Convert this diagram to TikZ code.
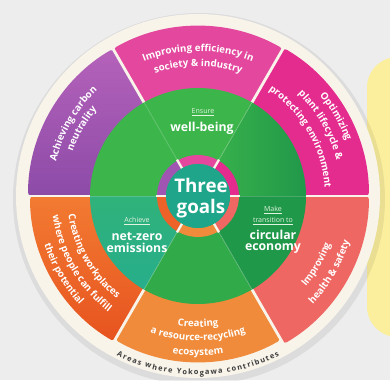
\documentclass[tikz,border=0pt]{standalone}
\usepackage{fontspec}
\setmainfont{Open Sans}
\usetikzlibrary{decorations.text}
\tikzset{>=latex}
\definecolor{bggray}{HTML}{EDEDED}
\definecolor{cream}{HTML}{F8F4EA}
\definecolor{blobyellow}{HTML}{FBEF9E}
\definecolor{segpurple}{HTML}{A055B2}
\definecolor{purpletop}{HTML}{B562BA}
\definecolor{purplebot}{HTML}{8C4BA8}
\definecolor{segpink}{HTML}{E4489E}
\definecolor{segmagenta}{HTML}{E42B8E}
\definecolor{segsalmon}{HTML}{EF6763}
\definecolor{segorange}{HTML}{F08B3B}
\definecolor{segred}{HTML}{EC6229}
\definecolor{redtop}{HTML}{F27B32}
\definecolor{redbot}{HTML}{E7531F}
\definecolor{goalgreen}{HTML}{3CB54B}
\definecolor{goalmid}{HTML}{31AB4A}
\definecolor{goaldark}{HTML}{20984A}
\definecolor{goalteal}{HTML}{27AE8B}
\definecolor{tealtop}{HTML}{30B27A}
\definecolor{centerteal}{HTML}{1FA68A}
\definecolor{smalllabel}{HTML}{E2F3DF}
\definecolor{captiongray}{HTML}{3A3A3A}
\newcommand{\segfont}{\bfseries\fontsize{8.3}{10}\selectfont\color{white}}
\newcommand{\capfont}{\bfseries\fontsize{6.3}{8}\selectfont\color{captiongray}}
\tikzset{
  segtext/.style={decorate, decoration={text along path, text align=center, text={|\segfont|#1}}},
  divider/.style={draw=cream, line width=2.4pt},
  ringtick/.style={draw=cream, line width=2pt},
  goalline/.style={draw=white, opacity=0.18, line width=0.8pt},
  goalsmall/.style={text=smalllabel, font=\fontsize{6}{7}\selectfont, inner sep=0pt},
  goalbig/.style={text=white, font=\bfseries\fontsize{10.5}{9.6}\selectfont, align=center, inner sep=0pt},
}

\begin{document}
\begin{tikzpicture}[scale=0.03]
        \useasboundingbox (-198,-184) rectangle (192,196);
        \fill[bggray] (-198,-184) rectangle (192,196);
        \fill[blobyellow, rounded corners=26pt] (169,139) rectangle (240,-141);

        % plate
        \fill[black, opacity=0.07] (1,-3) circle[radius=186];
        \fill[cream] (0,0) circle[radius=182];

        % outer segments
        \fill[segmagenta, rounded corners=3pt] (0:100) arc[start angle=0, end angle=60, radius=100] -- (60:171) arc[start angle=60, end angle=0, radius=171] -- cycle;
        \fill[segpink, rounded corners=3pt] (60:100) arc[start angle=60, end angle=120, radius=100] -- (120:170) arc[start angle=120, end angle=60, radius=170] -- cycle;
        \shade[top color=purpletop, bottom color=purplebot, rounded corners=3pt] (120:100) arc[start angle=120, end angle=180, radius=100] -- (180:170) arc[start angle=180, end angle=120, radius=170] -- cycle;
        \shade[top color=redtop, bottom color=redbot, rounded corners=3pt] (180:100) arc[start angle=180, end angle=240, radius=100] -- (240:168) arc[start angle=240, end angle=180, radius=168] -- cycle;
        \fill[segorange, rounded corners=3pt] (240:100) arc[start angle=240, end angle=300, radius=100] -- (300:166) arc[start angle=300, end angle=240, radius=166] -- cycle;
        \fill[segsalmon, rounded corners=3pt] (300:100) arc[start angle=300, end angle=360, radius=100] -- (0:171) arc[start angle=360, end angle=300, radius=171] -- cycle;
        \draw[divider] (0:100) -- (0:176);
        \draw[divider] (60:100) -- (60:176);
        \draw[divider] (120:100) -- (120:176);
        \draw[divider] (180:100) -- (180:176);
        \draw[divider] (240:100) -- (240:176);
        \draw[divider] (300:100) -- (300:176);

        % green disc
        \shade[left color=goalgreen, right color=goaldark] (0,0) -- (0:108) arc[start angle=0, end angle=60, radius=108] -- cycle;
        \fill[goalgreen] (0,0) -- (60:108) arc[start angle=60, end angle=180, radius=108] -- cycle;
        \shade[top color=tealtop, bottom color=goalteal] (0,0) -- (180:108) arc[start angle=180, end angle=240, radius=108] -- cycle;
        \fill[goalmid] (0,0) -- (240:108) arc[start angle=240, end angle=300, radius=108] -- cycle;
        \fill[goaldark] (0,0) -- (300:108) arc[start angle=300, end angle=360, radius=108] -- cycle;
        \draw[goalline] (0:41) -- (0:108);
        \draw[goalline] (60:41) -- (60:108);
        \draw[goalline] (120:41) -- (120:108);
        \draw[goalline] (180:41) -- (180:108);
        \draw[goalline] (240:41) -- (240:108);
        \draw[goalline] (300:41) -- (300:108);

        % small ring
        \fill[segmagenta] (0:32) arc[start angle=0, end angle=60, radius=32] -- (60:41) arc[start angle=60, end angle=0, radius=41] -- cycle;
        \fill[segpink] (60:32) arc[start angle=60, end angle=120, radius=32] -- (120:41) arc[start angle=120, end angle=60, radius=41] -- cycle;
        \fill[segpurple] (120:32) arc[start angle=120, end angle=180, radius=32] -- (180:41) arc[start angle=180, end angle=120, radius=41] -- cycle;
        \fill[segred] (180:32) arc[start angle=180, end angle=240, radius=32] -- (240:41) arc[start angle=240, end angle=180, radius=41] -- cycle;
        \fill[segorange] (240:32) arc[start angle=240, end angle=300, radius=32] -- (300:41) arc[start angle=300, end angle=240, radius=41] -- cycle;
        \fill[segsalmon] (300:32) arc[start angle=300, end angle=360, radius=32] -- (0:41) arc[start angle=360, end angle=300, radius=41] -- cycle;
        \draw[ringtick] (0:31) -- (0:42);
        \draw[ringtick] (60:31) -- (60:42);
        \draw[ringtick] (120:31) -- (120:42);
        \draw[ringtick] (180:31) -- (180:42);
        \draw[ringtick] (240:31) -- (240:42);
        \draw[ringtick] (300:31) -- (300:42);
        \fill[centerteal] (0,0) circle[radius=32];

        % centre and goals
        \node[text=white, font=\bfseries\fontsize{16}{18.5}\selectfont, align=center] (three) at (3,-2) {Three\\goals};
        \node[goalsmall] (ensure) at (5,84) {\underline{Ensure}};
        \node[goalbig] (wellbeing) at (4,68) {well-being};
        \node[goalsmall] (achieve) at (-61,-25) {\underline{Achieve}};
        \node[goalbig] (netzero) at (-61,-46.5) {net-zero\\emissions};
        \node[goalsmall, align=center, font=\fontsize{6}{9.4}\selectfont] (make) at (75,-19.5) {\underline{Make}\\\underline{transition to}};
        \node[goalbig] (circular) at (75,-45.5) {circular\\economy};

        % segment labels, upper half
        \path[segtext={Achieving carbon}] (195:146) arc[start angle=195, end angle=105, radius=146];
        \path[segtext={neutrality}] (195:133) arc[start angle=195, end angle=105, radius=133];
        \path[segtext={Improving efficiency in}] (135:145) arc[start angle=135, end angle=45, radius=145];
        \path[segtext={society {\&} industry}] (135:130) arc[start angle=135, end angle=45, radius=130];
        \path[segtext={Optimizing}] (75:158) arc[start angle=75, end angle=-15, radius=158];
        \path[segtext={plant lifecycle {\&}}] (75:143) arc[start angle=75, end angle=-15, radius=143];
        \path[segtext={protecting environment}] (75:127) arc[start angle=75, end angle=-15, radius=127];

        % segment labels, lower half
        \path[segtext={Creating workplaces}] (165:131) arc[start angle=165, end angle=255, radius=131];
        \path[segtext={where people can fulfill}] (165:146.5) arc[start angle=165, end angle=255, radius=146.5];
        \path[segtext={their potential}] (165:161) arc[start angle=165, end angle=255, radius=161];
        \path[segtext={Creating}] (225:131) arc[start angle=225, end angle=315, radius=131];
        \path[segtext={a resource-recycling}] (225:145) arc[start angle=225, end angle=315, radius=145];
        \path[segtext={ecosystem}] (225:159.5) arc[start angle=225, end angle=315, radius=159.5];
        \path[segtext={Improving}] (285:141) arc[start angle=285, end angle=375, radius=141];
        \path[segtext={health {\&} safety}] (285:158) arc[start angle=285, end angle=375, radius=158];

        % caption on the rim
        \path[decorate, decoration={text along path, text align={fit to path}, text={|\capfont|Areas where Yokogawa contributes}}] (-117:179) arc[start angle=-117, end angle=-63, radius=179];
\end{tikzpicture}
\end{document}
